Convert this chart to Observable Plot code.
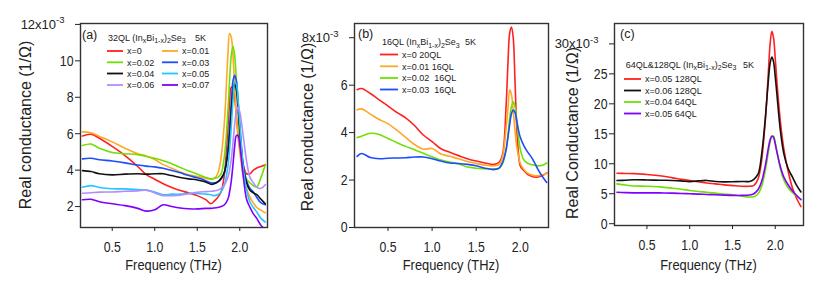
<!DOCTYPE html>
<html><head><meta charset="utf-8">
<script src="https://cdn.jsdelivr.net/npm/d3@7"></script>
<script src="https://cdn.jsdelivr.net/npm/@observablehq/plot@0.6"></script>
<style>
body{margin:0;background:#fff}
#wrap{position:relative;width:830px;height:281px;overflow:hidden;background:#fff}
#wrap svg{position:absolute;top:0}
</style></head><body><div id="wrap"></div>
<script>
const FONT = '"Liberation Sans",Arial,sans-serif';

// ---------- Panel (a): 32QL ----------
const freqA = [0.15,0.25,0.35,0.5,0.65,0.8,0.9,1.0,1.1,1.2,1.3,1.4,1.5,1.6,1.66,1.7,1.74,1.78,1.82,1.86,1.88,1.9,1.92,1.94,1.96,1.98,2.0,2.04,2.08,2.12,2.16,2.2,2.25,2.3];
const a_x000 = [5.88,5.97,5.75,5.3,4.8,4.2,3.75,3.5,3.25,3.05,2.88,2.75,2.6,2.38,2.15,2.3, 2.5,2.8,3.8,6.3,7.7,8.55,8.55,8.0,7.0,6.0,5.2,4.3,3.8,3.8,4.0,4.12,4.2,4.3];
const a_x001 = [6.1,6.05,5.85,5.55,5.2,4.9,4.78,4.58,4.3,4.1,3.9,3.75,3.65,3.55,3.5,3.55, 3.8,4.7,6.7,10.3,11.5,11.3,10.3,8.5,6.9,5.8,5.0,3.7,3.0,2.5,2.2,1.95,1.8,1.65];
const a_x002 = [5.35,5.43,5.2,4.97,4.9,4.85,4.75,4.65,4.52,4.35,4.15,3.95,3.78,3.6,3.52,3.55, 3.6,3.8,4.8,7.2,8.9,10.3,10.8,10.3,8.9,7.3,5.8,4.2,3.5,3.3,3.15,3.08,3.6,4.3];
const a_x003 = [4.62,4.65,4.57,4.5,4.4,4.28,4.22,4.18,4.1,3.98,3.85,3.7,3.58,3.42,3.3,3.3, 3.35,3.5,3.9,5.2,6.4,7.7,8.9,9.2,8.9,7.8,6.5,4.3,3.4,3.0,2.8,2.5,2.2,2.1];
const a_x004 = [3.97,3.92,3.8,3.74,3.78,3.8,3.78,3.8,3.8,3.7,3.6,3.52,3.46,3.35,3.22,3.25, 3.35,3.55,3.9,4.9,5.9,7.2,8.3,8.8,8.4,7.4,6.2,4.2,3.3,2.9,2.75,2.65,2.4,2.15];
const a_x005 = [3.06,3.15,3.05,2.98,2.97,2.93,2.9,2.8,2.65,2.68,2.68,2.72,2.72,2.68,2.65,2.6, 2.65,2.8,3.2,4.2,5.1,6.4,7.8,8.8,8.7,7.8,6.6,4.2,2.9,2.25,1.95,1.7,1.35,1.15];
const a_x006 = [2.73,2.76,2.79,2.8,2.84,2.86,2.9,2.75,2.6,2.6,2.62,2.7,2.78,2.82,2.84,2.86, 2.9,3.0,3.2,3.6,4.0,4.6,5.5,6.5,7.2,7.45,7.2,5.9,4.5,3.6,3.3,3.05,3.0,3.2];
const a_x007 = [2.37,2.4,2.26,2.15,2.05,1.9,1.75,1.82,2.1,2.0,1.92,1.88,1.87,1.9,1.9,1.92, 1.95,2.0,2.1,2.4,2.8,3.4,4.3,5.3,5.9,5.9,5.4,3.7,2.4,1.95,1.6,1.35,0.96,0.75];
const labelsA = ["x=0","x=0.01","x=0.02","x=0.03","x=0.04","x=0.05","x=0.06","x=0.07"];
const colorsA = ["#ff2020","#ffa826","#6fe000","#1c4dff","#111111","#22c8ff","#b58cff","#8000ff"];
const ticksYA = [2,4,6,8,10,12];

// ---------- Panel (b): 16QL ----------
const freqB = [0.15,0.2,0.3,0.4,0.5,0.6,0.7,0.8,0.9,1.0,1.1,1.2,1.3,1.4,1.5,1.6,1.7,1.76,1.8,1.84,1.86,1.88,1.9,1.92,1.94,1.96,1.98,2.0,2.04,2.08,2.12,2.16,2.2,2.25,2.3];
const b_x000 = [5.81,5.86,5.65,5.38,5.12,4.85,4.62,4.3,3.9,3.62,3.32,3.17,3.03,2.9,2.8,2.72,2.66, 2.75,3.1,5.2,6.9,8.2,8.45,8.0,6.2,4.2,3.1,2.6,2.4,2.25,2.17,2.13,2.13,2.18,2.3];
const b_x001 = [4.96,5.0,4.78,4.55,4.38,4.1,3.8,3.5,3.3,3.33,3.1,3.0,2.9,2.78,2.7,2.63,2.6, 2.65,3.0,4.2,5.0,5.8,5.6,4.9,4.1,3.4,3.0,2.7,2.45,2.3,2.22,2.18,2.18,2.22,2.28];
const b_x002 = [3.79,3.85,3.97,3.92,3.75,3.58,3.42,3.28,3.13,2.98,2.84,2.76,2.68,2.55,2.5,2.48,2.47, 2.5,2.7,3.3,3.9,4.6,5.1,5.3,5.1,4.5,3.8,3.3,2.85,2.72,2.66,2.63,2.6,2.62,2.72];
const b_x003 = [3.0,3.12,2.95,2.9,2.92,2.93,2.94,2.97,2.97,2.9,2.8,2.72,2.7,2.66,2.6,2.5,2.44, 2.5,2.75,3.3,3.8,4.35,4.8,4.95,4.85,4.5,4.1,3.8,3.45,3.2,3.0,2.75,2.45,2.15,1.9];
const labelsB = ["x=0 20QL","x=0.01 16QL","x=0.02  16QL","x=0.03  16QL"];
const colorsB = ["#ff2020","#ffa826","#6fe000","#1c4dff"];
const ticksYB = [0,2,4,6,8];

// ---------- Panel (c): 64QL & 128QL ----------
const freqC = [0.15,0.25,0.35,0.5,0.65,0.8,0.9,1.0,1.1,1.2,1.3,1.4,1.5,1.6,1.7,1.75,1.8,1.84,1.88,1.9,1.92,1.94,1.96,1.98,2.0,2.02,2.06,2.1,2.15,2.2,2.25,2.3];
const c_x005_128 = [8.42,8.38,8.35,8.2,8.0,7.65,7.4,7.2,7.0,6.8,6.65,6.48,6.36,6.25,6.25, 6.4,7.5,10.5,16.5,20.5,25.5,30.0,32.1,31.0,27.5,23.5,17.0,12.5,8.8,6.0,4.2,2.85];
const c_x006_128 = [7.2,7.25,7.32,7.3,7.25,7.22,7.15,7.02,7.15,7.22,7.05,6.98,7.0,7.05,7.05, 7.4,8.3,11.5,17.0,20.5,24.0,26.8,27.8,27.0,24.5,21.5,15.5,11.7,9.2,7.8,6.4,5.3];
const c_x004_64 = [6.65,6.45,6.3,6.25,6.15,5.92,5.75,5.55,5.38,5.25,5.1,4.95,4.82,4.62,4.45, 4.5,5.0,6.2,8.6,10.2,12.0,13.6,14.6,14.6,13.5,12.0,9.2,7.3,6.0,5.2,4.6,4.1];
const c_x005_64 = [5.25,5.18,5.15,5.15,5.14,5.1,5.05,5.0,4.93,4.88,4.82,4.77,4.73,4.72,4.78, 5.0,5.7,7.0,9.4,11.0,12.7,14.0,14.6,14.4,13.3,11.9,9.5,7.8,6.5,5.5,4.7,4.0];
const labelsC = ["x=0.05 128QL","x=0.06 128QL","x=0.04 64QL","x=0.05 64QL"];
const colorsC = ["#ff2020","#111111","#6fe000","#8000ff"];
const ticksYC = [0,5,10,15,20,25,30];

const ticksX = [0.5,1.0,1.5,2.0];

function rowsOf(freq, keys, arrays) {
  const rows = [];
  keys.forEach((k, j) => freq.forEach((f, i) => rows.push({f, v: arrays[j][i], k})));
  return rows;
}

// horizontally condense text (the reference type is narrow)
function squeeze(sel, k) {
  sel.each(function() {
    const L = this.getComputedTextLength();
    if (L > 0) {
      this.setAttribute("textLength", (L * k).toFixed(2));
      this.setAttribute("lengthAdjust", "spacingAndGlyphs");
    }
  });
}

function panel(o) {
  const chart = Plot.plot({
    width: o.width, height: 281,
    marginLeft: o.mL, marginRight: o.mR, marginTop: o.mT, marginBottom: o.mB,
    style: {fontFamily: FONT, fontSize: "15px", color: "#222", background: "transparent", overflow: "visible"},
    x: {domain: o.xDom},
    y: {domain: o.yDom},
    color: {domain: o.keys, range: o.colors},
    marks: [
      Plot.line(o.rows, {x: "f", y: "v", z: "k", stroke: "k", strokeWidth: 1.6, curve: "catmull-rom", clip: true}),
      Plot.frame({stroke: "#333", strokeWidth: 1.4}),
      Plot.axisX({ticks: ticksX, tickFormat: d3.format(".1f"), tickSize: 4, tickPadding: 10, label: null}),
      Plot.axisY({ticks: o.yTicks, tickFormat: d => d === o.topTick ? `${d}x10` : String(d), tickSize: 5, tickPadding: 2, label: null})
    ]
  });
  chart.style.left = o.left + "px";
  document.getElementById("wrap").appendChild(chart);
  const svg = d3.select(chart);
  // top y tick carries the ×10^-3 exponent
  const topLab = svg.selectAll('g[aria-label="y-axis tick label"] text')
    .filter(function() { return this.textContent.endsWith("x10"); });
  topLab.attr("font-size", 13).each(function() {
    const t = d3.select(this);
    t.append("tspan").attr("dy", "-0.55em").attr("font-size", "9.5px").text("-3");
    t.attr("transform", "translate(-9,0) " + (t.attr("transform") || ""));
  });
  squeeze(svg.selectAll('g[aria-label="y-axis tick label"] text, g[aria-label="x-axis tick label"] text')
    .filter(function() { return !this.textContent.includes("x10"); }), 0.82);
  // axis titles
  const fx = o.mL + (o.width - o.mL - o.mR) / 2;
  const xl = svg.append("text").attr("x", fx).attr("y", 270).attr("text-anchor", "middle")
    .attr("font-family", FONT).attr("font-size", 15.5).attr("fill", "#222").text("Frequency (THz)");
  squeeze(xl, 0.83);
  svg.append("text").attr("transform", `translate(${o.yLab[0]},${o.yLab[1]}) rotate(-90)`).attr("text-anchor", "middle")
    .attr("font-family", FONT).attr("font-size", 16).attr("fill", "#222").text(o.yLabel);
  // legend
  const g = svg.append("g").attr("font-family", FONT).attr("font-size", 9).attr("fill", "#222").attr("text-anchor", "start");
  g.append("text").attr("x", o.tag[0]).attr("y", o.tag[1]).attr("font-size", 12.5).text(o.tagText);
  const t = g.append("text").attr("x", o.title[0]).attr("y", o.title[1]);
  const parts = [[o.titlePrefix + " (In", 0], ["x", 1], ["Bi", 0], ["1-x", 1], [")", 0], ["2", 1], ["Se", 0], ["3", 1]];
  let sub = 0;
  parts.forEach(([s, isSub]) => {
    const dy = (isSub ? 2.5 : 0) - (sub ? 2.5 : 0);
    t.append("tspan").attr("dy", dy).attr("font-size", isSub ? 7 : 9).text(s);
    sub = isSub;
  });
  g.append("text").attr("x", o.title[2]).attr("y", o.title[1]).text("5K");
  o.legend.forEach((p, i) => {
    g.append("line").attr("x1", p[0]).attr("x2", p[0] + o.lineLen).attr("y1", p[1]).attr("y2", p[1])
      .attr("stroke", o.colors[i]).attr("stroke-width", 1.8);
    g.append("text").attr("x", p[0] + o.lineLen + 4).attr("y", p[1] + 3.3).text(o.keys[i]);
  });
}

panel({
  left: 0, width: 275, mL: 80, mR: 8, mT: 23, mB: 54,
  xDom: [0.127, 2.326], yDom: [0.85, 12.05], yTicks: ticksYA, topTick: 12,
  yLabel: "Real conductance (1/Ω)", yLab: [31, 125],
  keys: labelsA, colors: colorsA,
  rows: rowsOf(freqA, labelsA, [a_x000, a_x001, a_x002, a_x003, a_x004, a_x005, a_x006, a_x007]),
  tag: [82, 38.5], tagText: "(a)", titlePrefix: "32QL", title: [108, 40.5, 195],
  lineLen: 16,
  legend: [[107, 51], [162, 51], [107, 62.3], [162, 62.3], [107, 73.5], [162, 73.5], [107, 85], [162, 85]]
});

panel({
  left: 280, width: 275, mL: 74, mR: 7, mT: 23, mB: 54,
  xDom: [0.12, 2.32], yDom: [0, 8.6], yTicks: ticksYB, topTick: 8,
  yLabel: "Real conductance (1/Ω)", yLab: [33, 127],
  keys: labelsB, colors: colorsB,
  rows: rowsOf(freqB, labelsB, [b_x000, b_x001, b_x002, b_x003]),
  tag: [78, 37.5], tagText: "(b)", titlePrefix: "16QL", title: [102, 45, 185],
  lineLen: 18,
  legend: [[100, 54.5], [100, 66.3], [100, 78], [100, 89.5]]
});

panel({
  left: 550, width: 280, mL: 64, mR: 27, mT: 23, mB: 56,
  xDom: [0.121, 2.33], yDom: [-0.3, 33.4], yTicks: ticksYC, topTick: 30,
  yLabel: "Real Conductance (1/Ω)", yLab: [28, 133],
  keys: labelsC, colors: colorsC,
  rows: rowsOf(freqC, labelsC, [c_x005_128, c_x006_128, c_x004_64, c_x005_64]),
  tag: [70, 37.5], tagText: "(c)", titlePrefix: "64QL&128QL", title: [75.7, 67.5, 193],
  lineLen: 17,
  legend: [[74, 79], [74, 90.5], [74, 102], [74, 113.5]]
});
</script>
</body></html>
